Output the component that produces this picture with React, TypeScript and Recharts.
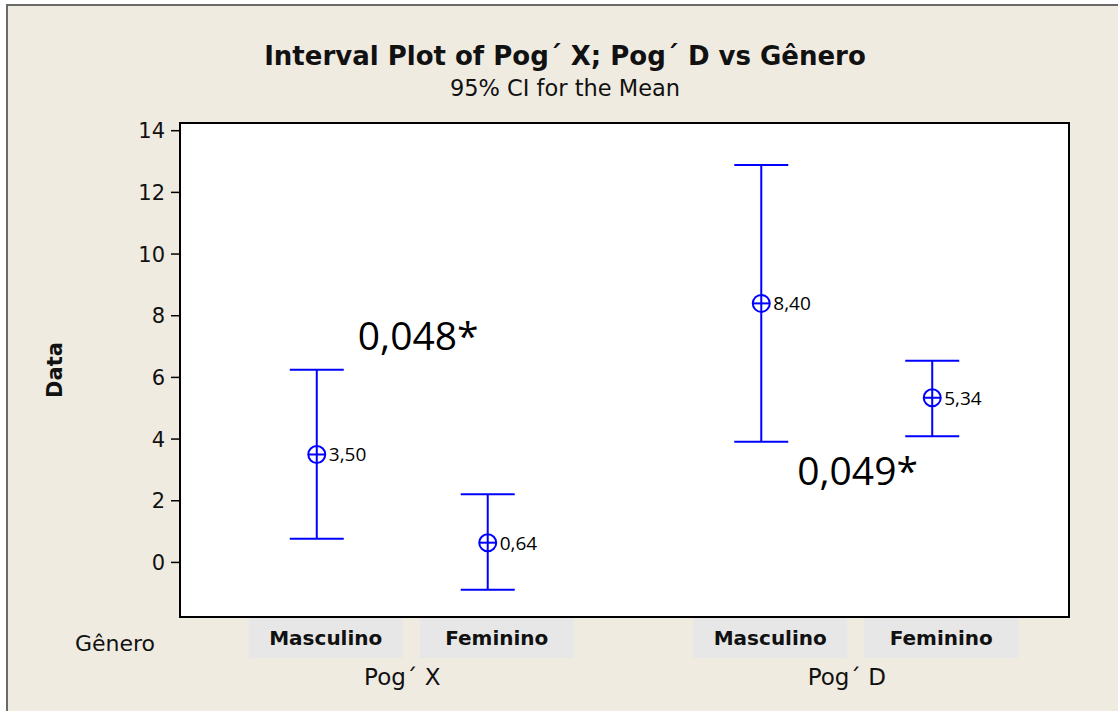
import React from 'react';
import { ScatterChart, Scatter, XAxis, YAxis, ErrorBar, CartesianGrid, ReferenceArea } from 'recharts';

const categories = ['Masculino', 'Feminino', 'Masculino', 'Feminino'];
const positions = [1, 2, 3.6, 4.6];
const groups = ['Pog\u00B4 X', 'Pog\u00B4 D'];
const groupPositions = [1.5, 4.1];
const means = [3.5, 0.64, 8.4, 5.34];
const lowers = [0.77, -0.89, 3.91, 4.09];
const uppers = [6.25, 2.21, 12.89, 6.54];
const yTicks = [0, 2, 4, 6, 8, 10, 12, 14];
const annotationTexts = ['0,048*', '0,049*'];
const annotationX = [1.24, 3.81];
const annotationY = [6.89, 2.51];

const xDomain = [0.2, 5.4];
const yDomain = [-1.77, 14.25];

const BLUE = '#0000ff';
const BG = '#efebe1';
const TAHOMA = "'DejaVu Sans', sans-serif";
const SEGOE = "'Open Sans', 'Noto Sans', sans-serif";

const data = positions.map((x, i) => ({
  x,
  y: means[i],
  err: [means[i] - lowers[i], uppers[i] - means[i]],
  label: means[i].toFixed(2).replace('.', ','),
}));

const annotations = annotationTexts.map((text, i) => ({ x: annotationX[i], y: annotationY[i], text }));

const MeanShape = (props: any) => {
  const { cx, cy, payload } = props;
  return (
    <g>
      <circle cx={cx} cy={cy} r={8.5} fill="none" stroke={BLUE} strokeWidth={2} />
      <line x1={cx - 8.5} x2={cx + 8.5} y1={cy} y2={cy} stroke={BLUE} strokeWidth={2} />
      <text x={cx + 12} y={cy} dominantBaseline="central" fontSize={19} fontFamily={SEGOE} fill="#000">
        {payload.label}
      </text>
    </g>
  );
};

const AnnotationShape = (props: any) => {
  const { cx, cy, payload } = props;
  return (
    <text x={cx} y={cy} fontSize={39} fontFamily={SEGOE} fill="#000">
      {payload.text}
    </text>
  );
};

const CategoryTick = (props: any) => {
  const { x, y, payload } = props;
  const idx = positions.indexOf(payload.value);
  const name = categories[idx] ?? '';
  const cx = x + 9;
  return (
    <g>
      <rect x={cx - 77} y={y + 1} width={154} height={40} fill="#e7e7e7" />
      <text x={cx} y={y + 21} textAnchor="middle" dominantBaseline="central" fontSize={20} fontWeight="bold" fontFamily={TAHOMA} fill="#111">
        {name}
      </text>
    </g>
  );
};

const GroupTick = (props: any) => {
  const { x, y, payload } = props;
  const idx = groupPositions.indexOf(payload.value);
  return (
    <text x={x} y={y + 14} textAnchor="middle" dominantBaseline="central" fontSize={23} fontFamily={TAHOMA} fill="#111">
      {groups[idx] ?? ''}
    </text>
  );
};

export default function App() {
  return (
    <div style={{ position: 'absolute', left: 0, top: 0, width: 1118, height: 711, background: '#fff', overflow: 'hidden' }}>
      <div
        style={{
          position: 'absolute',
          left: 6,
          top: 4,
          width: 1200,
          height: 800,
          background: BG,
          borderLeft: '2px solid #6a6a6a',
          borderTop: '2px solid #6a6a6a',
        }}
      />
      <div style={{ position: 'absolute', left: 0, top: 0 }}>
        <ScatterChart width={1118} height={711} margin={{ top: 123, right: 49, bottom: 18, left: 0 }}>
          <CartesianGrid horizontal={false} vertical={false} fill="#ffffff" />
          <XAxis
            dataKey="x"
            type="number"
            domain={xDomain}
            allowDataOverflow
            ticks={positions}
            interval={0}
            height={46}
            axisLine={false}
            tickLine={false}
            tickSize={0}
            tickMargin={0}
            tick={<CategoryTick />}
          />
          <XAxis
            xAxisId="g"
            dataKey="x"
            type="number"
            domain={xDomain}
            allowDataOverflow
            ticks={groupPositions}
            interval={0}
            height={30}
            axisLine={false}
            tickLine={false}
            tickSize={0}
            tickMargin={0}
            tick={<GroupTick />}
          />
          <YAxis
            dataKey="y"
            type="number"
            domain={yDomain}
            allowDataOverflow
            ticks={yTicks}
            interval={0}
            width={180}
            axisLine={false}
            tickLine={{ stroke: '#000', strokeWidth: 1.5 }}
            tickSize={9}
            tickMargin={6}
            tick={{ fontSize: 21, fill: '#111', fontFamily: TAHOMA }}
          />
          <ReferenceArea
            x1={xDomain[0]}
            x2={xDomain[1]}
            y1={yDomain[0]}
            y2={yDomain[1]}
            fill="none"
            stroke="#000"
            strokeWidth={2}
            ifOverflow="visible"
          />
          <Scatter data={data} dataKey="y" shape={<MeanShape />} isAnimationActive={false}>
            <ErrorBar dataKey="err" direction="y" width={27} stroke={BLUE} strokeWidth={2} isAnimationActive={false} />
          </Scatter>
          <Scatter xAxisId="g" data={annotations} dataKey="y" shape={<AnnotationShape />} isAnimationActive={false} />
        </ScatterChart>
      </div>
      <svg width={1118} height={711} style={{ position: 'absolute', left: 0, top: 0, pointerEvents: 'none' }}>
        <text x={565} y={56} textAnchor="middle" dominantBaseline="central" fontSize={26} fontWeight="bold" fontFamily={TAHOMA} fill="#111">
          Interval Plot of Pog´ X; Pog´ D vs Gênero
        </text>
        <text x={565} y={88} textAnchor="middle" dominantBaseline="central" fontSize={22.5} fontFamily={TAHOMA} fill="#111">
          95% CI for the Mean
        </text>
        <text x={55} y={370} transform="rotate(-90 55 370)" textAnchor="middle" dominantBaseline="central" fontSize={21} fontWeight="bold" fontFamily={TAHOMA} fill="#111">
          Data
        </text>
        <text x={155} y={643} textAnchor="end" dominantBaseline="central" fontSize={22} fontFamily={TAHOMA} fill="#111">
          Gênero
        </text>
      </svg>
    </div>
  );
}
